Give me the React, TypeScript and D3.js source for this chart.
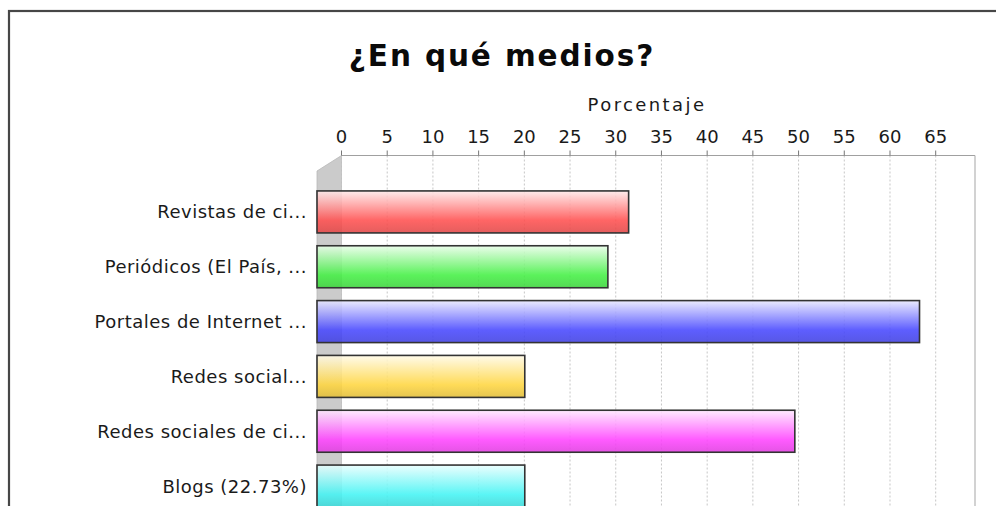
import React from "react";
import * as d3 from "d3";

const categories = [
  "Revistas de ci...",
  "Periódicos (El País, ...",
  "Portales de Internet ...",
  "Redes social...",
  "Redes sociales de ci...",
  "Blogs (22.73%)",
];
const values = [34.09, 31.82, 65.91, 22.73, 52.27, 22.73];
const colors = ["#ff5050", "#44f044", "#4848ff", "#ffd640", "#ff44ff", "#44f4f4"];
const ticks = [0, 5, 10, 15, 20, 25, 30, 35, 40, 45, 50, 55, 60, 65];
const title = "¿En qué medios?";
const axisLabel = "Porcentaje";

const W = 996;
const H = 506;
const DX = 24.5;
const DY = 15.5;

export default function App() {
  const x = d3.scaleLinear().domain([0, 69.3]).range([341.5, 975]);
  const y = d3
    .scaleBand<string>()
    .domain(categories)
    .range([169, 529])
    .paddingInner(0.234)
    .paddingOuter(0.4);
  const top = 155.5;
  const bottom = 560;
  const font = "'DejaVu Sans', sans-serif";

  return (
    <svg
      width={W}
      height={H}
      viewBox={`0 0 ${W} ${H}`}
      style={{ position: "absolute", left: 0, top: 0, background: "#fff" }}
    >
      <defs>
        {colors.map((c, i) => {
          const base = d3.color(c)!;
          const light = d3.interpolateRgb(c, "#ffffff")(0.88);
          const dark = d3.rgb(base).darker(0.35).toString();
          return (
            <linearGradient key={i} id={`g${i}`} x1="0" y1="0" x2="0" y2="1">
              <stop offset="0%" stopColor={light} />
              <stop offset="70%" stopColor={c} />
              <stop offset="100%" stopColor={dark} />
            </linearGradient>
          );
        })}
      </defs>
      <rect x={0} y={0} width={W} height={H} fill="#fff" />
      {/* outer border */}
      <rect x={9} y={11} width={W + 20} height={H + 20} fill="none" stroke="#474747" strokeWidth={2.2} />

      {/* title */}
      <text
        x={502}
        y={66}
        textAnchor="middle"
        fontFamily={font}
        fontWeight="bold"
        fontSize={29.5}
        letterSpacing={1.9}
        fill="#0a0a0a"
      >
        {title}
      </text>

      {/* axis label */}
      <text x={647} y={111} textAnchor="middle" fontFamily={font} fontSize={18} letterSpacing={2.4} fill="#1a1a1a">
        {axisLabel}
      </text>

      {/* left wall */}
      <polygon
        points={`${x(0)},${top} ${x(0) - DX},${top + DY} ${x(0) - DX},${bottom} ${x(0)},${bottom}`}
        fill="#cbcbcb"
        stroke="#b8b8b8"
        strokeWidth={0.8}
      />

      {/* gridlines */}
      {ticks.map((t) => (
        <line
          key={`g${t}`}
          x1={x(t)}
          x2={x(t)}
          y1={top}
          y2={bottom}
          stroke="#c6c6c6"
          strokeWidth={1}
          strokeDasharray="2,2"
        />
      ))}

      {/* plot frame */}
      <line x1={x(0)} x2={975} y1={top} y2={top} stroke="#a0a0a0" strokeWidth={1} />
      <line x1={975} x2={975} y1={top} y2={bottom} stroke="#b4b4b4" strokeWidth={1.2} />

      {/* ticks and tick labels */}
      {ticks.map((t) => (
        <g key={`t${t}`}>
          <line x1={x(t)} x2={x(t)} y1={top - 5} y2={top} stroke="#777" strokeWidth={1} />
          <text
            x={x(t)}
            y={143}
            textAnchor="middle"
            fontFamily={font}
            fontSize={18}
            fill="#1a1a1a"
          >
            {t}
          </text>
        </g>
      ))}

      {/* bars */}
      {categories.map((c, i) => (
        <rect
          key={c}
          x={x(0) - DX}
          y={y(c)!}
          width={x(values[i]) - x(0)}
          height={y.bandwidth()}
          fill={`url(#g${i})`}
          fillOpacity={0.88}
          stroke="#333"
          strokeWidth={1.6}
        />
      ))}

      {/* category labels */}
      {categories.map((c) => (
        <text
          key={`l${c}`}
          x={307}
          y={y(c)! + y.bandwidth() / 2}
          dominantBaseline="central"
          textAnchor="end"
          fontFamily={font}
          fontSize={18}
          letterSpacing={0.5}
          fill="#1a1a1a"
        >
          {c}
        </text>
      ))}
    </svg>
  );
}
